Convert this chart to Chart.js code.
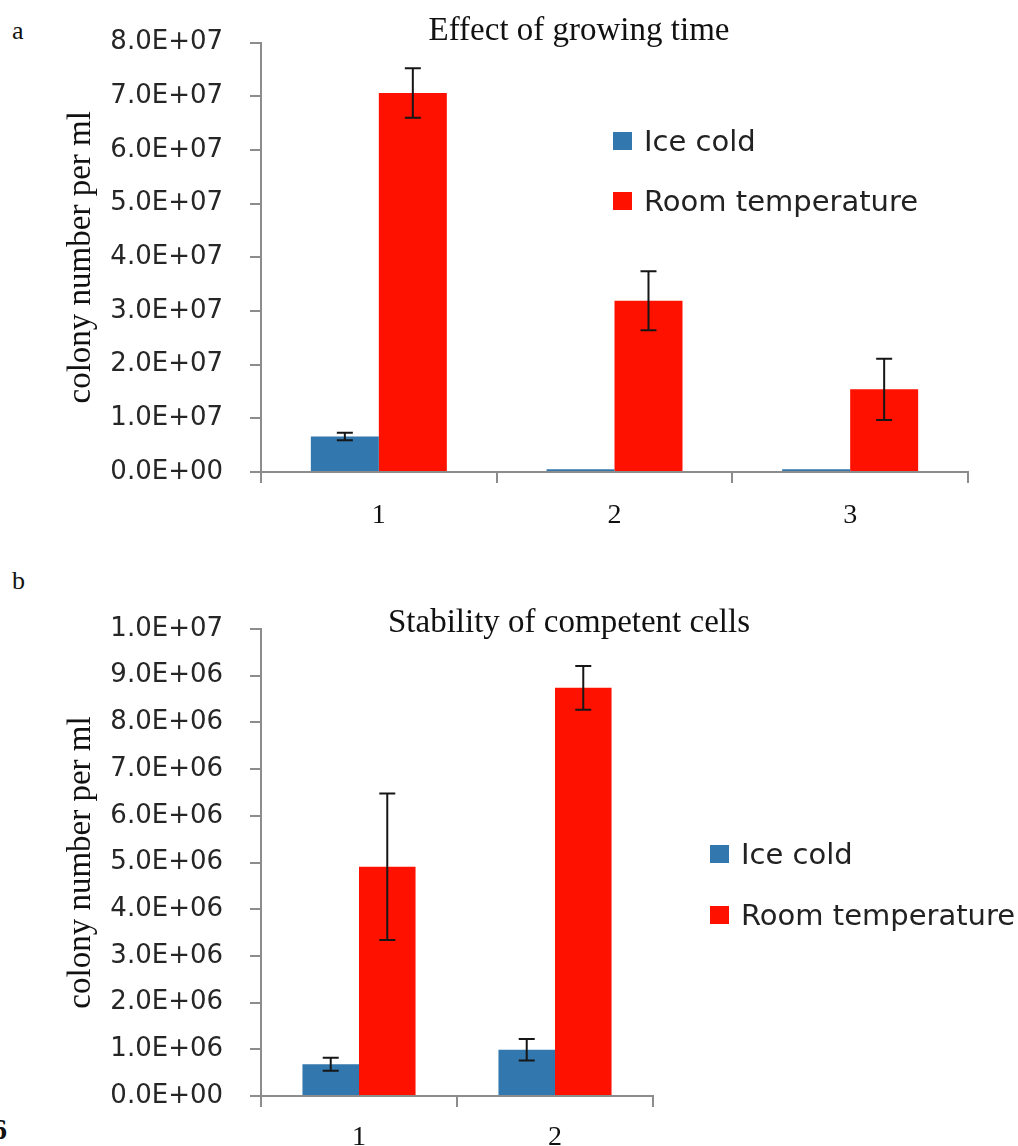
<!DOCTYPE html>
<html>
<head>
<meta charset="utf-8">
<script src="https://cdn.jsdelivr.net/npm/chart.js@4/dist/chart.umd.min.js"></script>
<style>
  html, body { margin: 0; padding: 0; background: #fff; }
  body { width: 1018px; height: 1146px; position: relative; overflow: hidden; }
  canvas { position: absolute; left: 0; }
  #chartA { top: 0; }
  #chartB { top: 545px; }
  .panel { position: absolute; font-family: "Liberation Serif", serif; color: #111; }
</style>
</head>
<body>
<div class="panel" style="left:12px; top:16px; font-size:26px;">a</div>
<div class="panel" style="left:12px; top:566px; font-size:26px;">b</div>
<div class="panel" style="left:-8px; top:1112px; font-size:30px; font-weight:bold;">6</div>
<canvas id="chartA" width="1018" height="545"></canvas>
<canvas id="chartB" width="1018" height="601"></canvas>
<script>
// panel a: effect of growing time
const titleA = "Effect of growing time";
const categoriesA = ["1", "2", "3"];
const iceColdA = [6.6e6, 5e5, 5e5];
const iceColdErrA = [0.7e6, 0, 0];
const roomTempA = [7.06e7, 3.19e7, 1.54e7];
const roomTempErrA = [4.6e6, 5.5e6, 5.7e6];

// panel b: stability of competent cells
const titleB = "Stability of competent cells";
const categoriesB = ["1", "2"];
const iceColdB = [6.8e5, 9.9e5];
const iceColdErrB = [1.4e5, 2.3e5];
const roomTempB = [4.91e6, 8.74e6];
const roomTempErrB = [1.57e6, 4.7e5];

const seriesNames = ["Ice cold", "Room temperature"];
const yTitle = "colony number per ml";

const BLUE = "#3277ad";
const RED = "#ff1100";
const AXIS = "#8c8c8c";

// 8.0E+07 style labels
const sci = (v) => {
  if (v === 0) return "0.0E+00";
  const exp = Math.floor(Math.log10(Math.abs(v)) + 1e-9);
  const mant = v / Math.pow(10, exp);
  const sign = exp < 0 ? "-" : "+";
  return mant.toFixed(1) + "E" + sign + String(Math.abs(exp)).padStart(2, "0");
};

const errorBars = {
  id: "errorBars",
  afterDatasetsDraw(chart) {
    const { ctx } = chart;
    const y = chart.scales.y;
    chart.data.datasets.forEach((ds, i) => {
      if (!ds.errors) return;
      chart.getDatasetMeta(i).data.forEach((bar, j) => {
        const e = ds.errors[j];
        if (!e) return;
        const v = ds.data[j];
        const top = y.getPixelForValue(v + e);
        const bot = y.getPixelForValue(v - e);
        ctx.save();
        ctx.strokeStyle = "#161616";
        ctx.lineWidth = 2;
        ctx.beginPath();
        ctx.moveTo(bar.x, top);
        ctx.lineTo(bar.x, bot);
        ctx.moveTo(bar.x - 8, top);
        ctx.lineTo(bar.x + 8, top);
        ctx.moveTo(bar.x - 8, bot);
        ctx.lineTo(bar.x + 8, bot);
        ctx.stroke();
        ctx.restore();
      });
    });
  },
};

// title and legend placed like the original figure
const overlay = {
  id: "overlay",
  afterDraw(chart, args, opts) {
    const { ctx } = chart;
    ctx.save();
    ctx.fillStyle = "#111";
    ctx.font = "33px 'Liberation Serif'";
    ctx.textAlign = "center";
    ctx.textBaseline = "alphabetic";
    ctx.fillText(opts.title, opts.titleX, opts.titleY);

    ctx.font = "29px 'DejaVu Sans'";
    ctx.textAlign = "left";
    chart.data.datasets.forEach((ds, i) => {
      const base = opts.legendY + i * opts.legendGap;
      ctx.fillStyle = ds.backgroundColor;
      ctx.fillRect(opts.legendX, base - 19, 19, 18);
      ctx.fillStyle = "#222";
      ctx.fillText(ds.label, opts.legendX + 31, base);
    });
    ctx.restore();
  },
};

function makeChart(id, cfg) {
  const el = document.getElementById(id);
  return new Chart(el, {
    type: "bar",
    data: {
      labels: cfg.labels,
      datasets: [
        { label: seriesNames[0], data: cfg.ice, errors: cfg.iceErr, backgroundColor: BLUE },
        { label: seriesNames[1], data: cfg.room, errors: cfg.roomErr, backgroundColor: RED },
      ],
    },
    options: {
      responsive: false,
      animation: false,
      devicePixelRatio: 1,
      layout: { padding: { left: 0, right: cfg.padRight, top: cfg.padTop, bottom: 0 } },
      datasets: { bar: { barPercentage: 1, categoryPercentage: 0.577 } },
      plugins: {
        legend: { display: false },
        tooltip: { enabled: false },
        overlay: cfg.overlay,
      },
      scales: {
        x: {
          grid: { offset: true, drawOnChartArea: false, tickLength: 11, color: AXIS, lineWidth: 2 },
          border: { color: AXIS, width: 2 },
          ticks: { color: "#111", padding: cfg.xPad, font: { family: "Liberation Serif", size: 28 } },
          afterFit: (s) => { s.height = cfg.xHeight; },
        },
        y: {
          min: 0,
          max: cfg.max,
          grid: { drawOnChartArea: false, tickLength: 11, color: AXIS, lineWidth: 2 },
          border: { color: AXIS, width: 2 },
          ticks: {
            stepSize: cfg.step,
            color: "#262626",
            padding: 27,
            font: { family: "DejaVu Sans", size: 26 },
            callback: (v) => sci(v),
          },
          title: {
            display: true,
            text: yTitle,
            color: "#111",
            font: { family: "Liberation Serif", size: 33 },
            padding: { top: 62, bottom: 0 },
          },
          afterFit: (s) => { s.width = 261; },
        },
      },
    },
    plugins: [errorBars, overlay],
  });
}

makeChart("chartA", {
  labels: categoriesA,
  ice: iceColdA, iceErr: iceColdErrA,
  room: roomTempA, roomErr: roomTempErrA,
  max: 8e7, step: 1e7,
  padTop: 42, padRight: 50, xHeight: 73, xPad: 16,
  overlay: { title: titleA, titleX: 579, titleY: 40, legendX: 613, legendY: 151, legendGap: 60 },
});

makeChart("chartB", {
  labels: categoriesB,
  ice: iceColdB, iceErr: iceColdErrB,
  room: roomTempB, roomErr: roomTempErrB,
  max: 1e7, step: 1e6,
  padTop: 84, padRight: 365, xHeight: 50, xPad: 14,
  overlay: { title: titleB, titleX: 569, titleY: 87, legendX: 710, legendY: 319, legendGap: 61 },
});
</script>
</body>
</html>
